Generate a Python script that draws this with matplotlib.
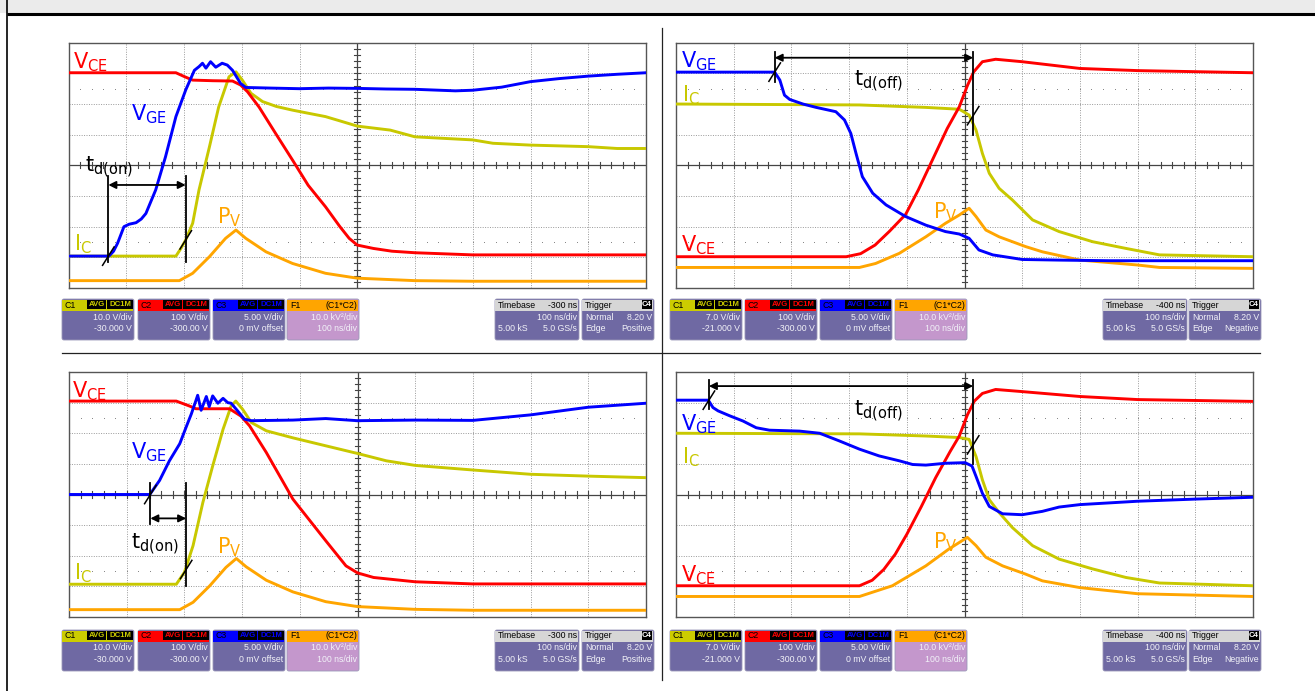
import numpy as np
import matplotlib.pyplot as plt
from matplotlib.patches import Rectangle, FancyBboxPatch

W, H = 1315, 691

RED = '#ff0000'
BLUE = '#0000ff'
YEL = '#c8c800'
ORA = '#ffa500'

# ---- traces, in screen divisions (x: 0..10, y: 0..8) ----
# turn-on, 10 V gate (top left)
TL_VCE_X = [0, 1.86, 2.0, 2.15, 2.5, 2.84, 2.98, 3.1, 3.3, 3.6, 3.88, 4.15, 4.45, 4.7, 4.86, 5.0, 5.28, 5.6, 6, 7, 8, 9, 10]
TL_VCE_Y = [7.02, 7.02, 6.9, 6.78, 6.76, 6.75, 6.62, 6.4, 5.9, 5.0, 4.17, 3.35, 2.65, 2.0, 1.62, 1.4, 1.29, 1.2, 1.15, 1.08, 1.08, 1.08, 1.08]
TL_VGE_X = [0, 0.7, 0.78, 0.85, 0.96, 1.05, 1.17, 1.26, 1.34, 1.51, 1.68, 1.86, 2.03, 2.18, 2.26, 2.32, 2.38, 2.46, 2.55, 2.66, 2.75, 2.84, 2.98, 3.07, 3.5, 4.0, 4.5, 5.0, 5.5, 6.0, 6.7, 7.0, 7.5, 8.0, 8.5, 9.0, 9.5, 10]
TL_VGE_Y = [1.04, 1.04, 1.2, 1.46, 2.0, 2.08, 2.13, 2.25, 2.43, 3.2, 4.28, 5.59, 6.46, 7.1, 7.22, 7.33, 7.17, 7.38, 7.2, 7.33, 7.27, 7.1, 6.67, 6.54, 6.52, 6.5, 6.52, 6.51, 6.49, 6.48, 6.43, 6.45, 6.55, 6.73, 6.83, 6.91, 6.97, 7.02]
TL_IC_X = [0, 1.86, 1.95, 2.03, 2.15, 2.26, 2.44, 2.6, 2.78, 2.9, 3.01, 3.16, 3.36, 3.6, 3.88, 4.15, 4.45, 4.7, 5.0, 5.57, 6.0, 7.0, 7.35, 8.0, 9.0, 9.5, 10]
TL_IC_Y = [1.04, 1.04, 1.3, 1.57, 2.11, 3.2, 4.6, 5.9, 6.89, 7.05, 6.78, 6.35, 6.08, 5.92, 5.8, 5.7, 5.59, 5.45, 5.28, 5.15, 4.93, 4.83, 4.72, 4.66, 4.61, 4.55, 4.55]
TL_PV_X = [0, 1.92, 2.15, 2.44, 2.72, 2.9, 3.07, 3.42, 3.88, 4.45, 5.0, 6.0, 7.0, 10]
TL_PV_Y = [0.24, 0.24, 0.48, 1.02, 1.62, 1.89, 1.62, 1.18, 0.8, 0.48, 0.32, 0.24, 0.22, 0.22]

# turn-off, 7 V gate scale (top right)
TR_VGE_X = [0, 1.71, 1.8, 1.88, 1.97, 2.2, 2.43, 2.77, 2.92, 3.03, 3.12, 3.23, 3.41, 3.64, 3.98, 4.33, 4.67, 4.91, 5.08, 5.25, 5.49, 6.0, 6.64, 7.5, 10]
TR_VGE_Y = [7.04, 7.04, 6.78, 6.29, 6.15, 6.0, 5.89, 5.75, 5.48, 5.04, 4.39, 3.63, 3.09, 2.71, 2.33, 2.05, 1.84, 1.76, 1.62, 1.24, 1.08, 0.93, 0.91, 0.89, 0.89]
TR_IC_X = [0, 3.18, 4.33, 4.91, 5.08, 5.2, 5.31, 5.43, 5.6, 5.83, 6.18, 6.64, 7.22, 7.8, 8.38, 10]
TR_IC_Y = [6.0, 5.97, 5.89, 5.83, 5.64, 5.15, 4.39, 3.74, 3.25, 2.87, 2.22, 1.84, 1.51, 1.29, 1.08, 1.02]
TR_VCE_X = [0, 2.95, 3.2, 3.45, 3.7, 3.98, 4.2, 4.45, 4.7, 4.91, 5.05, 5.16, 5.31, 5.54, 6, 7, 8, 10]
TR_VCE_Y = [1.02, 1.02, 1.12, 1.4, 1.85, 2.4, 3.2, 4.2, 5.2, 5.91, 6.6, 7.05, 7.38, 7.46, 7.38, 7.16, 7.09, 7.02]
TR_PV_X = [0, 3.18, 3.46, 3.87, 4.33, 4.67, 4.91, 5.08, 5.2, 5.37, 5.6, 6.06, 6.35, 7, 8, 8.38, 10]
TR_PV_Y = [0.67, 0.67, 0.8, 1.13, 1.67, 2.11, 2.38, 2.6, 2.33, 1.89, 1.67, 1.35, 1.18, 0.91, 0.75, 0.67, 0.64]

# turn-on, 0 V gate start (bottom left)
BL_VCE_X = [0, 1.86, 2.1, 2.2, 2.78, 2.98, 3.13, 3.42, 3.88, 4.45, 4.8, 5.0, 5.28, 6, 7, 10]
BL_VCE_Y = [7.05, 7.05, 6.88, 6.8, 6.8, 6.56, 6.24, 5.37, 3.85, 2.49, 1.67, 1.44, 1.29, 1.15, 1.08, 1.08]
BL_VGE_X = [0, 1.4, 1.57, 1.74, 1.92, 2.03, 2.12, 2.2, 2.23, 2.29, 2.38, 2.43, 2.49, 2.58, 2.67, 2.75, 2.81, 2.9, 3.04, 3.16, 3.88, 4.45, 5.0, 6, 7, 8, 9, 10]
BL_VGE_Y = [4.0, 4.0, 4.46, 5.1, 5.66, 6.2, 6.63, 7.07, 7.24, 6.75, 7.2, 6.87, 7.22, 6.98, 7.14, 7.0, 6.98, 6.78, 6.46, 6.41, 6.43, 6.48, 6.41, 6.43, 6.42, 6.6, 6.85, 6.98]
BL_IC_X = [0, 1.86, 2.0, 2.15, 2.32, 2.49, 2.67, 2.81, 2.89, 3.01, 3.16, 3.42, 3.88, 4.45, 5.0, 5.5, 6, 7, 8, 9, 10]
BL_IC_Y = [1.07, 1.07, 1.46, 2.33, 3.74, 4.93, 6.13, 6.89, 7.05, 6.78, 6.35, 6.08, 5.85, 5.59, 5.34, 5.1, 4.95, 4.8, 4.66, 4.6, 4.55]
BL_PV_X = [0, 1.92, 2.15, 2.44, 2.72, 2.9, 3.07, 3.42, 3.88, 4.45, 5.0, 6.0, 7.0, 10]
BL_PV_Y = [0.24, 0.24, 0.48, 1.02, 1.62, 1.91, 1.64, 1.2, 0.82, 0.5, 0.34, 0.25, 0.22, 0.22]

# turn-off, slow gate (bottom right)
BR_VGE_X = [0, 0.56, 0.64, 0.73, 0.93, 1.16, 1.39, 1.62, 2.14, 2.49, 2.83, 3.18, 3.52, 3.87, 4.1, 4.33, 4.67, 5.01, 5.13, 5.2, 5.31, 5.43, 5.66, 6, 6.35, 6.64, 7, 8, 9, 10]
BR_VGE_Y = [7.08, 7.08, 6.84, 6.73, 6.57, 6.4, 6.18, 6.1, 6.07, 6.0, 5.75, 5.48, 5.26, 5.1, 4.98, 4.96, 5.02, 5.04, 4.93, 4.59, 4.04, 3.61, 3.37, 3.34, 3.45, 3.59, 3.67, 3.78, 3.85, 3.91]
BR_IC_X = [0, 3.18, 4.33, 4.91, 5.08, 5.2, 5.31, 5.43, 5.6, 5.83, 6.18, 6.64, 7.22, 7.8, 8.38, 10]
BR_IC_Y = [6.0, 5.98, 5.91, 5.86, 5.8, 5.24, 4.48, 3.83, 3.41, 2.92, 2.33, 1.89, 1.57, 1.29, 1.11, 1.02]
BR_VCE_X = [0, 3.18, 3.4, 3.6, 3.8, 4.0, 4.25, 4.5, 4.75, 4.91, 5.05, 5.17, 5.31, 5.54, 6, 7, 8, 10]
BR_VCE_Y = [1.02, 1.02, 1.2, 1.55, 2.05, 2.7, 3.6, 4.55, 5.4, 5.91, 6.6, 7.05, 7.3, 7.43, 7.36, 7.2, 7.1, 7.04]
BR_PV_X = [0, 3.18, 3.75, 4.33, 4.73, 5.05, 5.2, 5.37, 5.66, 6.06, 6.35, 7, 8, 10]
BR_PV_Y = [0.67, 0.67, 1.02, 1.67, 2.22, 2.6, 2.33, 1.95, 1.67, 1.4, 1.18, 0.96, 0.76, 0.67]

# delay time markers: (x start, x end, arrow y, left bar y-range, right bar y-range)
TL_TD = (0.69, 2.03, 3.36, (0.86, 3.65), (0.86, 3.65))
BL_TD = (1.41, 2.03, 3.22, (3.03, 4.39), (1.02, 4.39))
TR_TD = (1.71, 5.15, 7.51, (6.73, 7.7), (4.99, 7.7))
BR_TD = (0.57, 5.15, 7.54, (6.78, 7.74), (4.99, 7.74))
TL_CROSS = [(0.69, 1.04), (2.03, 1.57)]
BL_CROSS = [(1.41, 4.0), (2.03, 1.55)]
TR_CROSS = [(1.71, 7.04), (5.15, 5.62)]
BR_CROSS = [(0.57, 7.08), (5.15, 5.62)]

# readout boxes
SETUP_ON = {'c1': ('10.0 V/div', '-30.000 V'), 'tb': '-300 ns', 'edge': 'Positive'}
SETUP_OFF = {'c1': ('7.0 V/div', '-21.000 V'), 'tb': '-400 ns', 'edge': 'Negative'}

plt.rcParams['font.family'] = ['DejaVu Sans']

fig = plt.figure(figsize=(W / 100, H / 100), dpi=100)
bg = fig.add_axes([0, 0, 1, 1])
bg.set_xlim(0, W)
bg.set_ylim(H, 0)
bg.axis('off')

# page frame
bg.add_patch(Rectangle((0, 0), W, 12.5, color='#ebebeb', lw=0))
bg.plot([7, W], [13.5, 13.5], color='black', lw=2.2, solid_capstyle='butt')
bg.plot([7.5, 7.5], [0, H], color='black', lw=1.2)
bg.plot([62, 1260], [352.5, 352.5], color='#222222', lw=0.9)
bg.plot([662, 662], [28, 680], color='#222222', lw=0.9)


def scope(rect, traces, labels, td, crosses):
    x0, y0, x1, y1 = rect
    ax = fig.add_axes([x0 / W, 1 - y1 / H, (x1 - x0) / W, (y1 - y0) / H])
    ax.set_xlim(0, 10)
    ax.set_ylim(0, 8)
    ax.set_xticks([])
    ax.set_yticks([])
    for s in ax.spines.values():
        s.set_color('#555555')
        s.set_linewidth(1.0)

    # graticule
    for gx in range(1, 10):
        if gx != 5:
            ax.axvline(gx, color='#999999', lw=0.7, ls=(0, (1, 1.5)), zorder=1)
    for gy in range(1, 8):
        if gy != 4:
            ax.axhline(gy, color='#999999', lw=0.7, ls=(0, (1, 1.5)), zorder=1)
    for gy in (6.5, 1.5):
        ax.plot(np.arange(0.2, 10, 0.2), np.full(49, gy), ls='none', marker='s',
                ms=0.7, mew=0, color='#888888', zorder=1)
    ax.axvline(5, color='#444444', lw=0.9, zorder=1)
    ax.axhline(4, color='#444444', lw=0.9, zorder=1)
    for t in np.arange(0.2, 10, 0.2):
        ax.plot([t, t], [3.9, 4.1], color='#444444', lw=0.8, zorder=1)
    for t in np.arange(0.2, 8, 0.2):
        ax.plot([4.95, 5.05], [t, t], color='#444444', lw=0.8, zorder=1)

    for (tx, ty, col) in traces:
        ax.plot(tx, ty, color=col, lw=2.1, solid_joinstyle='round', zorder=3)

    for (txt, sub, lx, ly, col) in labels:
        ax.text(lx, ly, txt + r'$_\mathregular{' + sub + '}$', color=col,
                fontsize=15, ha='left', va='baseline', zorder=5)

    xa, xb, ya, (l0, l1), (r0, r1) = td
    ax.plot([xa, xa], [l0, l1], color='black', lw=1.3, zorder=4)
    ax.plot([xb, xb], [r0, r1], color='black', lw=1.3, zorder=4)
    ax.annotate('', xy=(xb, ya), xytext=(xa, ya),
                arrowprops=dict(arrowstyle='<|-|>', color='black', lw=1.3,
                                mutation_scale=11, shrinkA=0, shrinkB=0), zorder=4)
    for (cx, cy) in crosses:
        ax.plot([cx - 0.1, cx + 0.1], [cy - 0.3, cy + 0.3], color='black', lw=1.1, zorder=4)
    return ax


def badge(x, y, w, text, fg):
    bg.add_patch(Rectangle((x, y + 1), w, 9, color='black', lw=0))
    bg.text(x + w / 2, y + 5.8, text, color=fg, fontsize=5.6, ha='center', va='center',
            family='Liberation Sans', fontweight='bold')


def readout(x0, y0, w, head, hcol, body, bcol, htxt='black', right=None, lines=()):
    bg.add_patch(FancyBboxPatch((x0, y0), w, 41, boxstyle='round,pad=0,rounding_size=2',
                                fc=bcol, ec='#9a98b8', lw=0.6))
    bg.add_patch(Rectangle((x0 + 0.5, y0 + 0.5), w - 1, 11, color=hcol, lw=0))
    bg.text(x0 + 3, y0 + 6, head, color=htxt, fontsize=6.3, ha='left', va='center',
            family='Liberation Sans')
    if right:
        bg.text(x0 + w - 2, y0 + 6, right, color=htxt, fontsize=6.3, ha='right',
                va='center', family='Liberation Sans')
    for i, (lt, rt) in enumerate(lines):
        yy = y0 + 18 + i * 11.5
        if lt:
            bg.text(x0 + 3, yy, lt, color='#f2f2f8', fontsize=6.3, ha='left',
                    va='center', family='Liberation Sans')
        if rt:
            bg.text(x0 + w - 2, yy, rt, color='#f2f2f8', fontsize=6.3, ha='right',
                    va='center', family='Liberation Sans')


def readout_row(xs, y0, setup):
    body = '#6f69a3'
    c1, c2, c3, f1, tb, tr = xs
    readout(c1, y0, 72, 'C1', '#cccc00', None, body, lines=[('', setup['c1'][0]), ('', setup['c1'][1])])
    badge(c1 + 25, y0, 19, 'AVG', '#cccc00')
    badge(c1 + 45, y0, 26, 'DC1M', '#cccc00')
    readout(c2, y0, 72, 'C2', '#ff0000', None, body, lines=[('', '100 V/div'), ('', '-300.00 V')])
    badge(c2 + 25, y0, 19, 'AVG', '#ff0000')
    badge(c2 + 45, y0, 26, 'DC1M', '#ff0000')
    readout(c3, y0, 72, 'C3', '#0000ff', None, body, lines=[('', '5.00 V/div'), ('', '0 mV offset')])
    badge(c3 + 25, y0, 19, 'AVG', '#0000ff')
    badge(c3 + 45, y0, 26, 'DC1M', '#0000ff')
    readout(f1, y0, 72, 'F1', '#ffa500', None, '#c497cc', right='(C1*C2)',
            lines=[('', '10.0 kV\u00b2/div'), ('', '100 ns/div')])
    readout(tb, y0, 84, 'Timebase', '#d6d6d6', None, body, right=setup['tb'],
            lines=[('', '100 ns/div'), ('5.00 kS', '5.0 GS/s')])
    readout(tr, y0, 72, 'Trigger', '#d6d6d6', None, body,
            lines=[('Normal', '8.20 V'), ('Edge', setup['edge'])])
    badge(tr + 60, y0, 10, 'C4', 'white')


scope((68.5, 42.7, 646, 288),
      [(TL_PV_X, TL_PV_Y, ORA), (TL_IC_X, TL_IC_Y, YEL),
       (TL_VCE_X, TL_VCE_Y, RED), (TL_VGE_X, TL_VGE_Y, BLUE)],
      [('V', 'CE', 0.07, 7.16, RED), ('V', 'GE', 1.08, 5.46, BLUE),
       ('t', 'd(on)', 0.29, 3.79, 'black'), ('I', 'C', 0.1, 1.24, YEL),
       ('P', 'V', 2.57, 2.11, ORA)],
      TL_TD, TL_CROSS)

scope((676, 42.7, 1253, 288),
      [(TR_PV_X, TR_PV_Y, ORA), (TR_IC_X, TR_IC_Y, YEL),
       (TR_VCE_X, TR_VCE_Y, RED), (TR_VGE_X, TR_VGE_Y, BLUE)],
      [('V', 'GE', 0.08, 7.2, BLUE), ('I', 'C', 0.1, 6.08, YEL),
       ('t', 'd(off)', 3.08, 6.59, 'black'), ('P', 'V', 4.46, 2.27, ORA),
       ('V', 'CE', 0.08, 1.18, RED)],
      TR_TD, TR_CROSS)

scope((69, 372, 646, 617),
      [(BL_PV_X, BL_PV_Y, ORA), (BL_IC_X, BL_IC_Y, YEL),
       (BL_VCE_X, BL_VCE_Y, RED), (BL_VGE_X, BL_VGE_Y, BLUE)],
      [('V', 'CE', 0.06, 7.17, RED), ('V', 'GE', 1.07, 5.19, BLUE),
       ('t', 'd(on)', 1.07, 2.24, 'black'), ('I', 'C', 0.08, 1.23, YEL),
       ('P', 'V', 2.57, 2.08, ORA)],
      BL_TD, BL_CROSS)

scope((676, 372, 1253, 617),
      [(BR_PV_X, BR_PV_Y, ORA), (BR_IC_X, BR_IC_Y, YEL),
       (BR_VCE_X, BR_VCE_Y, RED), (BR_VGE_X, BR_VGE_Y, BLUE)],
      [('V', 'GE', 0.08, 6.09, BLUE), ('I', 'C', 0.1, 5.0, YEL),
       ('t', 'd(off)', 3.08, 6.57, 'black'), ('P', 'V', 4.46, 2.24, ORA),
       ('V', 'CE', 0.08, 1.15, RED)],
      BR_TD, BR_CROSS)

readout_row((62, 138, 213, 287, 495, 582), 299, SETUP_ON)
readout_row((670, 745, 820, 895, 1103, 1189), 299, SETUP_OFF)
readout_row((62, 138, 213, 287, 495, 582), 630, SETUP_ON)
readout_row((670, 745, 820, 895, 1103, 1189), 630, SETUP_OFF)

fig.savefig('out.png', dpi=100)
